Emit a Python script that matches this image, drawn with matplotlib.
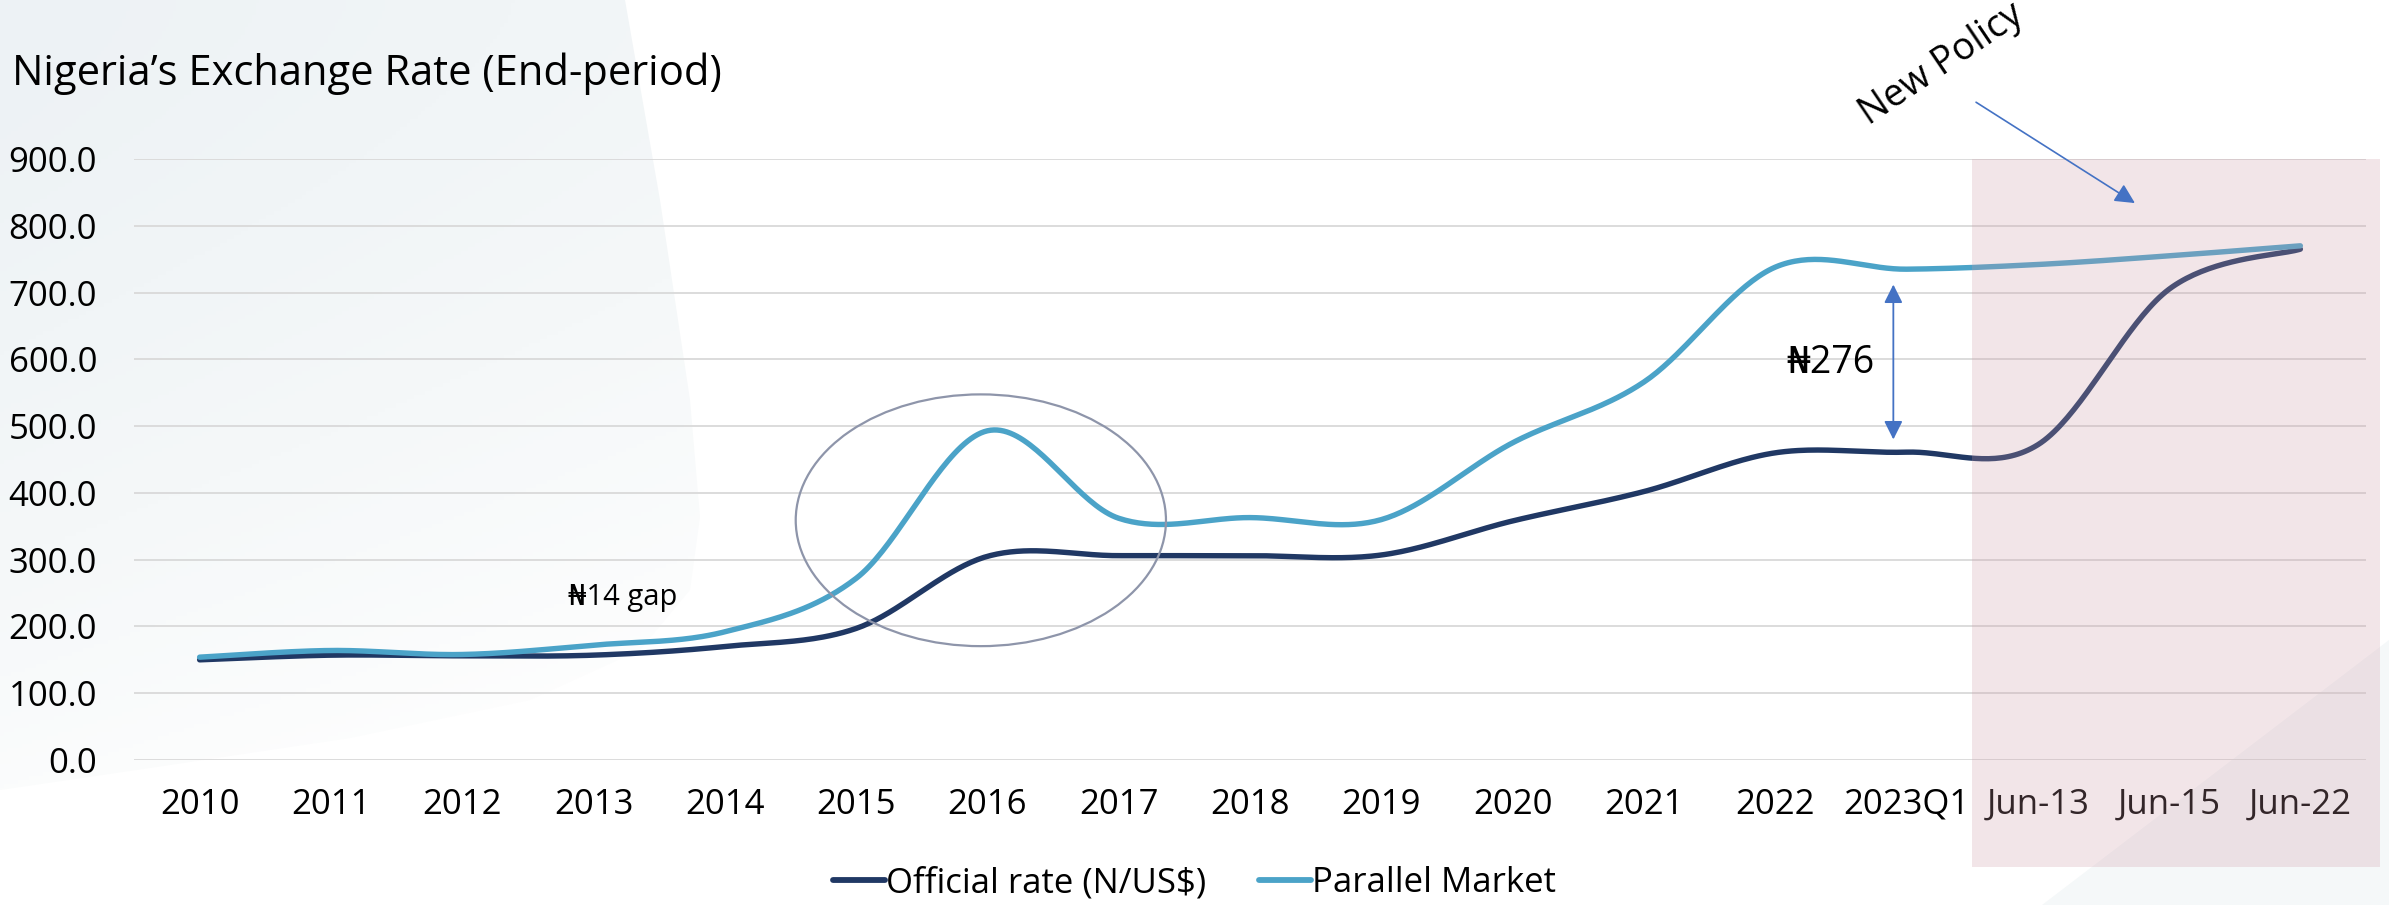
import numpy as np
import matplotlib
matplotlib.use("Agg")
import matplotlib.pyplot as plt
from matplotlib.patches import Polygon, Ellipse, Rectangle
from matplotlib.lines import Line2D
from matplotlib.colors import LinearSegmentedColormap

categories = ["2010", "2011", "2012", "2013", "2014", "2015", "2016", "2017", "2018",
              "2019", "2020", "2021", "2022", "2023Q1", "Jun-13", "Jun-15", "Jun-22"]
official = [150, 157, 156, 157, 170, 197, 305, 306, 306, 307, 358, 402, 460, 461, 472, 705, 765]
parallel = [154, 164, 158, 172, 192, 272, 493, 362, 363, 360, 475, 566, 738, 735, 742, 755, 770]
yticks = [0, 100, 200, 300, 400, 500, 600, 700, 800, 900]

W, H = 2389, 905
FONT = ["Open Sans", "DejaVu Sans"]
plt.rcParams["font.family"] = FONT

NAVY = "#203864"
TEAL = "#4BA3C8"
ARROW = "#4472C4"


def smooth(vals, n=40):
    # excel-like smoothed line: catmull-rom through the points
    y = np.asarray(vals, float)
    p = np.column_stack([np.arange(len(y), dtype=float), y])
    p = np.vstack([p[0], p, p[-1]])
    t = np.linspace(0, 1, n, endpoint=False)[:, None]
    segs = []
    for i in range(1, len(p) - 2):
        p0, p1, p2, p3 = p[i - 1], p[i], p[i + 1], p[i + 2]
        c1 = p1 + (p2 - p0) / 6
        c2 = p2 - (p3 - p1) / 6
        segs.append((1 - t) ** 3 * p1 + 3 * (1 - t) ** 2 * t * c1
                    + 3 * (1 - t) * t ** 2 * c2 + t ** 3 * p2)
    segs.append(p[-2][None])
    s = np.vstack(segs)
    return s[:, 0], s[:, 1]


fig = plt.figure(figsize=(W / 100, H / 100), dpi=100)
fig.patch.set_facecolor("white")

# background decoration
bg = fig.add_axes([0, 0, 1, 1], zorder=-1)
bg.set_xlim(0, W)
bg.set_ylim(H, 0)
bg.axis("off")
cm = LinearSegmentedColormap.from_list("bgc", ["#EDF2F5", "#F5F8F9", "#FEFEFE"])
gx, gy = np.meshgrid(np.linspace(0, 1, 200), np.linspace(0, 1, 200))
img = bg.imshow(np.clip(0.35 * gx + 0.85 * gy ** 1.5, 0, 1), cmap=cm,
                extent=[0, 720, 800, 0], aspect="auto")
left_shape = Polygon([(0, 0), (625, 0), (660, 200), (690, 400), (700, 517), (690, 590),
                      (640, 650), (530, 700), (350, 738), (150, 768), (0, 790)],
                     closed=True, transform=bg.transData, fc="none", ec="none")
bg.add_patch(left_shape)
img.set_clip_path(left_shape)
bg.add_patch(Polygon([(2042, 905), (2389, 640), (2389, 905)], closed=True,
                     fc="#F5F8F9", ec="none"))

ax = fig.add_axes([134 / W, 145 / H, 2232 / W, 601 / H])
ax.patch.set_alpha(0)
x = np.arange(len(categories))

sx, sy = smooth(official)
ax.plot(sx, sy, color=NAVY, lw=3.9, solid_capstyle="round", zorder=4)
px, py = smooth(parallel)
ax.plot(px, py, color=TEAL, lw=3.9, solid_capstyle="round", zorder=4)

ax.set_xlim(-0.5, len(categories) - 0.5)
ax.set_ylim(0, 900)
ax.set_xticks(x)
ax.set_xticklabels(categories)
ax.set_yticks(yticks)
ax.set_yticklabels([f"{v:.1f}" for v in yticks])
ax.tick_params(axis="both", length=0, labelsize=25, colors="black")
ax.tick_params(axis="x", pad=20)
ax.tick_params(axis="y", pad=26.5)
ax.grid(axis="y", color="#D9D9D9", lw=1.3)
ax.set_axisbelow(True)
for s in ax.spines.values():
    s.set_visible(False)

# 2016 circle and notes
ax.add_patch(Ellipse((5.95, 359), 2.82, 377, fill=False, ec="#8E95AA", lw=1.6, zorder=5))
ax.text(3.22, 243, "₦14 gap", fontsize=21, ha="center", va="center", family=FONT)
ax.annotate("", xy=(12.9, 712), xytext=(12.9, 480),
            arrowprops=dict(arrowstyle="<|-|>", color=ARROW, lw=1.3, mutation_scale=28,
                            shrinkA=0, shrinkB=0))
ax.text(12.42, 594, "₦276", fontsize=27, ha="center", va="center", family=FONT)

# new policy shading
ax.add_patch(Rectangle((13.5, -160), 3.11, 1060, fc="#CF9BA7", alpha=0.25, lw=0,
                       zorder=10, clip_on=False))
ax.annotate("", xy=(14.74, 834), xytext=(13.53, 985), annotation_clip=False,
            arrowprops=dict(arrowstyle="-|>", color=ARROW, lw=1.2, mutation_scale=30,
                            shrinkA=0, shrinkB=0), zorder=11)
fig.text(1942 / W, 1 - 64 / H, "New Policy", fontsize=27, rotation=34,
         ha="center", va="center", rotation_mode="anchor", weight="medium")

fig.text(12 / W, 1 - 85 / H, "Nigeria’s Exchange Rate (End-period)", fontsize=30,
         ha="left", va="baseline")

handles = [Line2D([], [], color=NAVY, lw=4.2, solid_capstyle="round"),
           Line2D([], [], color=TEAL, lw=4.2, solid_capstyle="round")]
fig.legend(handles, ["Official rate (N/US$)", "Parallel Market"], loc="center",
           bbox_to_anchor=(0.5, 22 / H), ncol=2, frameon=False, fontsize=25,
           handlelength=1.5, handletextpad=0.05, columnspacing=1.5)

fig.savefig("out.png", dpi=100)
